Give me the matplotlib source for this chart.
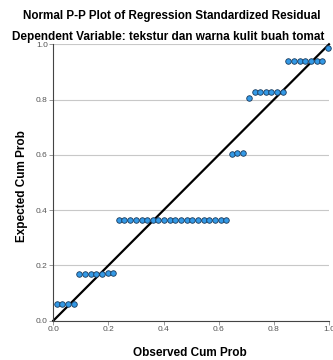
import matplotlib
matplotlib.use("Agg")
import matplotlib.pyplot as plt

observed = [0.012, 0.033, 0.053, 0.074,
            0.094, 0.115, 0.135, 0.156, 0.176, 0.197, 0.217,
            0.238, 0.258, 0.279, 0.299, 0.320, 0.340, 0.361, 0.381, 0.402, 0.422,
            0.443, 0.463, 0.484, 0.504, 0.525, 0.545, 0.566, 0.586, 0.607, 0.627,
            0.648, 0.668, 0.689,
            0.709,
            0.730, 0.750, 0.771, 0.791, 0.812, 0.832,
            0.853, 0.873, 0.894, 0.914, 0.935, 0.955, 0.976,
            0.996]
expected = [0.060, 0.060, 0.060, 0.060,
            0.169, 0.169, 0.169, 0.169, 0.169, 0.173, 0.173,
            0.364, 0.364, 0.364, 0.364, 0.364, 0.364, 0.364, 0.364, 0.364, 0.364,
            0.364, 0.364, 0.364, 0.364, 0.364, 0.364, 0.364, 0.364, 0.364, 0.364,
            0.602, 0.606, 0.606,
            0.807,
            0.826, 0.826, 0.826, 0.826, 0.826, 0.826,
            0.941, 0.941, 0.941, 0.941, 0.941, 0.941, 0.941,
            0.988]
ticks = [0.0, 0.2, 0.4, 0.6, 0.8, 1.0]
tick_labels = ["0.0", "0.2", "0.4", "0.6", "0.8", "1.0"]

plt.rcParams['font.family'] = ['Liberation Sans', 'DejaVu Sans']

W, H = 333, 360
fig = plt.figure(figsize=(W / 100, H / 100), dpi=100)
ax = fig.add_axes([53.3 / W, (H - 320.7) / H, 275.7 / W, 276.4 / H])

ax.set_xlim(0, 1)
ax.set_ylim(0, 1)
ax.set_xticks(ticks)
ax.set_xticklabels(tick_labels)
ax.set_yticks(ticks)
ax.set_yticklabels(tick_labels)
ax.yaxis.grid(True, color='#c8c8c8', linewidth=0.8)
ax.set_axisbelow(True)
for s in ['top', 'right']:
    ax.spines[s].set_visible(False)
for s in ['left', 'bottom']:
    ax.spines[s].set_color('#444444')
    ax.spines[s].set_linewidth(0.8)
ax.tick_params(axis='both', labelsize=6, labelcolor='#555555', color='#888888',
               length=3, width=0.6, pad=1)

ax.plot([0, 1], [0, 1], color='black', linewidth=1.6, zorder=2, clip_on=False)
ax.plot(observed, expected, linestyle='none', marker='o', markersize=4,
        markerfacecolor='#3399e6', markeredgecolor='#1a3a5c', markeredgewidth=0.6,
        zorder=3, clip_on=False)

fig.text(190 / W, 1 - 355.5 / H, 'Observed Cum Prob', ha='center', va='baseline',
         fontsize=8.5, fontweight='bold')
fig.text(22.5 / W, 1 - 186 / H, 'Expected Cum Prob', ha='center', va='center',
         rotation=90, fontsize=8.5, fontweight='bold')

fig.text(171.5 / W, 1 - 18.5 / H, 'Normal P-P Plot of Regression Standardized Residual',
         ha='center', va='baseline', fontsize=8.4, fontweight='bold')
fig.text(168.5 / W, 1 - 40 / H, 'Dependent Variable: tekstur dan warna kulit buah tomat',
         ha='center', va='baseline', fontsize=8.5, fontweight='bold')

fig.savefig('out.png', dpi=100)
